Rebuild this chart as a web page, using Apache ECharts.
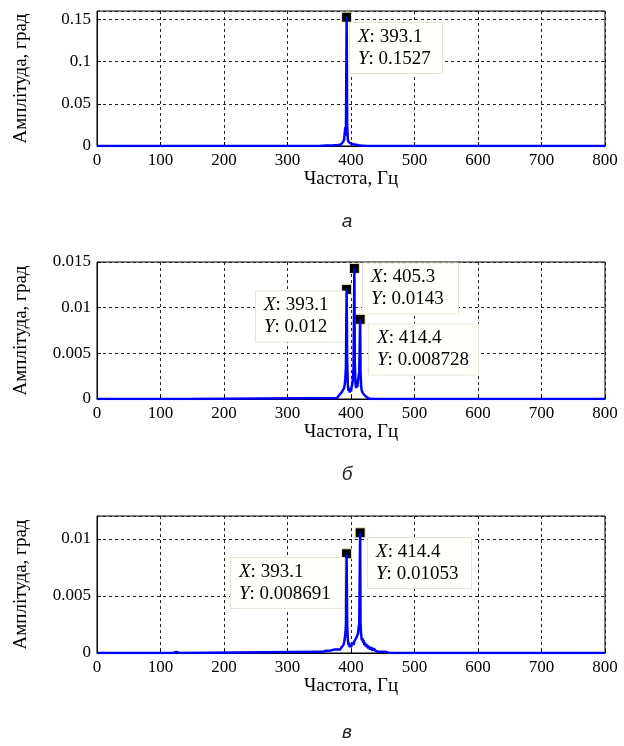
<!DOCTYPE html>
<html>
<head>
<meta charset="utf-8">
<script src="https://cdn.jsdelivr.net/npm/echarts@6/dist/echarts.min.js"></script>
<style>
html, body { margin: 0; padding: 0; background: #fff; }
#chart { width: 624px; height: 746px; }
</style>
</head>
<body>
<div id="chart"></div>
<script>
// спектр (а)
const freqA = [0, 352, 353, 354, 355, 356, 357, 358, 359, 360, 361, 362, 363, 364, 365, 366, 367, 368, 369, 370, 371, 372, 373, 374, 375, 376, 377, 378, 379, 380, 381, 382, 383, 384, 385, 386, 387, 388, 389, 390, 391, 392, 393.1, 394, 395, 396, 397, 398, 399, 400, 401, 402, 403, 404, 405, 406, 407, 408, 409, 410, 411, 412, 413, 414, 415, 416, 417, 418, 419, 420, 421, 422, 423, 424, 800]
const ampA = [0, 0.0003, 0.0008, 0.0002, 0.001, 0.0004, 0.0009, 0.0003, 0.0011, 0.0005, 0.0012, 0.0004, 0.0013, 0.0006, 0.0014, 0.0005, 0.0015, 0.0007, 0.0016, 0.0006, 0.0018, 0.0008, 0.0019, 0.0009, 0.0021, 0.001, 0.0023, 0.0011, 0.0026, 0.0013, 0.0029, 0.0015, 0.0033, 0.0018, 0.0038, 0.0022, 0.0045, 0.003, 0.007, 0.009, 0.022, 0.012, 0.1527, 0.025, 0.008, 0.005, 0.0065, 0.003, 0.0055, 0.0028, 0.0048, 0.0025, 0.0045, 0.002, 0.004, 0.0018, 0.0035, 0.0015, 0.003, 0.0012, 0.0026, 0.001, 0.0022, 0.0008, 0.0018, 0.0006, 0.0015, 0.0005, 0.0012, 0.0004, 0.0009, 0.0002, 0.0005, 0, 0]

// спектр (б)
const freqB = [0, 55, 57, 59, 137, 139, 141, 378, 379, 380, 381, 382, 383, 384, 385, 386, 387, 388, 389, 390, 391, 392, 393.1, 394, 395, 396, 397, 398, 399, 400, 401, 402, 403, 404, 405.3, 406, 407, 408, 409, 410, 411, 412, 413, 414.4, 415, 416, 417, 418, 419, 420, 421, 422, 423, 424, 425, 426, 427, 428, 429, 430, 431, 800]
const ampB = [0, 0, 0.0002, 0, 0, 0.0002, 0, 0.0001, 0.0003, 0.0002, 0.0004, 0.0003, 0.0005, 0.0004, 0.0007, 0.0005, 0.0009, 0.0007, 0.0012, 0.0015, 0.0022, 0.0035, 0.012, 0.004, 0.0016, 0.0009, 0.0012, 0.0007, 0.0011, 0.0008, 0.0013, 0.0016, 0.0022, 0.0035, 0.0143, 0.004, 0.0018, 0.0012, 0.0019, 0.0013, 0.002, 0.0018, 0.003, 0.008728, 0.003, 0.0014, 0.0009, 0.0011, 0.0006, 0.0008, 0.0004, 0.0006, 0.0003, 0.0005, 0.0002, 0.0004, 0.0001, 0.0003, 0.0001, 0.0002, 0, 0]

// спектр (в)
const freqC = [0, 120, 122, 125, 128, 130, 355, 358, 361, 364, 367, 370, 373, 376, 379, 381, 383, 385, 386, 387, 388, 389, 390, 391, 392, 393.1, 394, 395, 396, 397, 398, 399, 400, 401, 402, 403, 404, 405, 406, 407, 408, 409, 410, 411, 412, 413, 414.4, 415, 416, 417, 418, 419, 420, 421, 422, 423, 424, 425, 426, 427, 428, 430, 432, 434, 436, 438, 440, 443, 446, 450, 455, 460, 800]
const ampC = [0, 0, 0.0001, 0.0001, 0.0001, 0, 0.0001, 0.0001, 0.0002, 0.0001, 0.0002, 0.0002, 0.0003, 0.0002, 0.0003, 0.0004, 0.0003, 0.0005, 0.0004, 0.0006, 0.0007, 0.0009, 0.0012, 0.0016, 0.0025, 0.008691, 0.0025, 0.0012, 0.0007, 0.0009, 0.0005, 0.0008, 0.0005, 0.0007, 0.0006, 0.0009, 0.0007, 0.001, 0.0009, 0.0012, 0.0011, 0.0014, 0.0013, 0.0017, 0.0022, 0.0026, 0.01053, 0.0026, 0.0016, 0.0011, 0.0013, 0.0009, 0.0011, 0.0007, 0.0009, 0.0006, 0.0008, 0.0005, 0.0007, 0.0004, 0.0006, 0.0003, 0.0005, 0.0002, 0.0004, 0.0002, 0.0003, 0.0001, 0.0002, 0.0001, 0.0001, 0, 0]

const yMax = [0.16, 0.015, 0.012]
const yStep = [0.05, 0.005, 0.005]
const captions = ['а', 'б', 'в']

const serif = 'Liberation Serif'
const grids = [
  { left: 97, right: 19, top: 11, height: 135 },
  { left: 97, right: 19, top: 262, height: 137 },
  { left: 97, right: 19, top: 516, height: 137 }
]

// datatip: маркер + підпис
const tip = (x, y, dx, dy, w) => ({
  coord: [x, y],
  label: {
    offset: [dx, dy],
    width: w - 16,
    formatter: `{i|X}: ${x}\n{i|Y}: ${y}`
  }
})

const tipsA = [tip(393.1, 0.1527, 3.4, 30.8, 92)]
const tipsB = [
  tip(393.1, 0.012, -90.6, 27, 90),
  tip(405.3, 0.0143, 8.6, 20, 95),
  tip(414.4, 0.008728, 8.9, 30.2, 109)
]
const tipsC = [
  tip(393.1, 0.008691, -115.6, 29.2, 113),
  tip(414.4, 0.01053, 7.9, 30.2, 103)
]

const makeX = (i) => ({
  type: 'value',
  gridIndex: i,
  min: 0,
  max: 800,
  interval: 100,
  name: 'Частота, Гц',
  nameLocation: 'middle',
  nameGap: 24,
  nameTextStyle: { fontFamily: serif, fontSize: 19, color: '#000' },
  axisLine: { show: true, onZero: false, lineStyle: { color: '#000', width: 1 } },
  axisTick: { show: true, inside: true, length: 4, lineStyle: { color: '#000' } },
  axisLabel: { fontFamily: serif, fontSize: 17, color: '#000', margin: 6 },
  splitLine: { show: true, lineStyle: { color: '#222', width: 1, type: [3, 3] } }
})

const makeY = (i) => ({
  type: 'value',
  gridIndex: i,
  min: 0,
  max: yMax[i],
  interval: yStep[i],
  name: 'Амплітуда, град',
  nameLocation: 'middle',
  nameGap: 66,
  nameTextStyle: { fontFamily: serif, fontSize: 19, color: '#000' },
  axisLine: { show: true, lineStyle: { color: '#000', width: 1 } },
  axisTick: { show: true, inside: true, length: 4, lineStyle: { color: '#000' } },
  axisLabel: { fontFamily: serif, fontSize: 17, color: '#000', margin: 6, showMaxLabel: i === 1 },
  splitLine: { show: true, lineStyle: { color: '#222', width: 1, type: [3, 3] } }
})

const makeSeries = (i, fx, fy, tips) => ({
  type: 'line',
  xAxisIndex: i,
  yAxisIndex: i,
  data: fx.map((f, k) => [f, fy[k]]),
  showSymbol: false,
  z: 5,
  lineStyle: { color: '#0000ff', width: 2.5 },
  itemStyle: { color: '#0000ff' },
  markPoint: {
    symbol: 'rect',
    symbolSize: 10,
    itemStyle: { color: '#000', borderColor: '#f2eeb8', borderWidth: 1 },
    label: {
      show: true,
      position: 'inside',
      align: 'left',
      verticalAlign: 'middle',
      fontFamily: serif,
      fontSize: 19,
      lineHeight: 22,
      color: '#000',
      backgroundColor: '#fffffb',
      borderColor: '#e6e6d6',
      borderWidth: 1,
      padding: [3, 8],
      rich: {
        i: { fontFamily: serif, fontSize: 19, fontStyle: 'italic', color: '#000', lineHeight: 22 }
      }
    },
    data: tips
  }
})

const chart = echarts.init(document.getElementById('chart'))
chart.setOption({
  animation: false,
  backgroundColor: '#fff',
  grid: grids.map(g => ({ ...g, show: true, borderColor: '#000', borderWidth: 1, containLabel: false })),
  xAxis: [0, 1, 2].map(makeX),
  yAxis: [0, 1, 2].map(makeY),
  series: [
    makeSeries(0, freqA, ampA, tipsA),
    makeSeries(1, freqB, ampB, tipsB),
    makeSeries(2, freqC, ampC, tipsC)
  ],
  graphic: captions.map((c, i) => ({
    type: 'text',
    x: 347,
    y: [222, 475, 733][i],
    style: {
      text: c,
      fontFamily: 'Liberation Sans',
      fontStyle: 'italic',
      fontSize: 19,
      fill: '#222',
      align: 'center',
      verticalAlign: 'middle'
    }
  }))
})
</script>
</body>
</html>
